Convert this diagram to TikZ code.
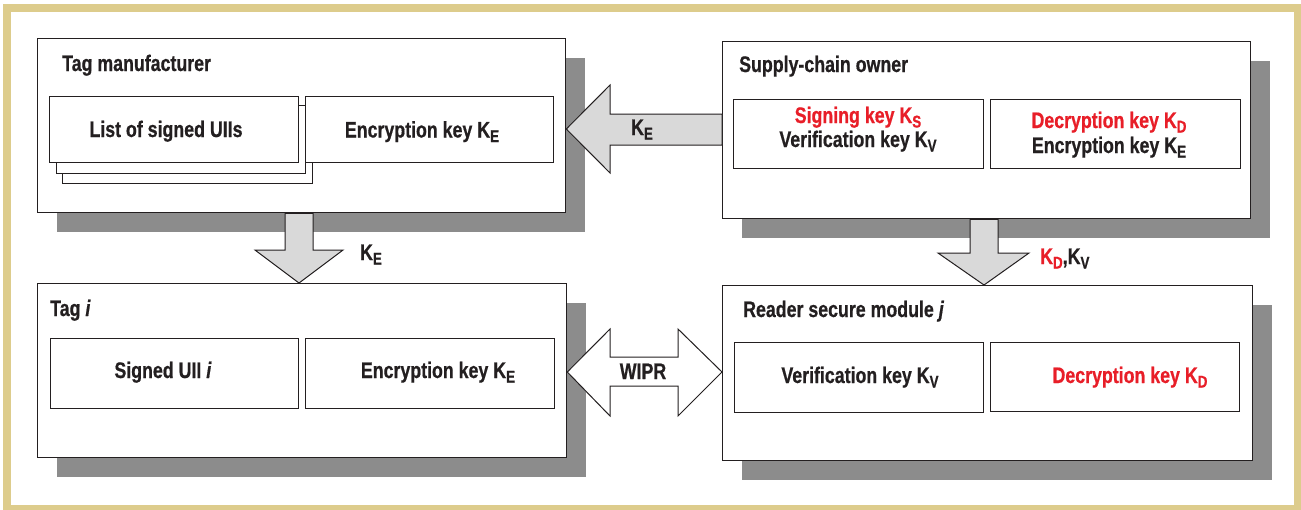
\documentclass[tikz,border=0pt]{standalone}
\usepackage{fontspec}
\setmainfont{Liberation Sans}[FakeStretch=0.79, BoldFeatures={FakeBold=0.6}, BoldItalicFeatures={FakeBold=0.6}]
\usetikzlibrary{calc}
\definecolor{frametan}{RGB}{221,204,140}
\definecolor{shadowgray}{RGB}{140,140,140}
\definecolor{arrowgray}{RGB}{217,217,217}
\definecolor{keyred}{RGB}{232,30,40}
\definecolor{ink}{RGB}{35,31,32}
\newcommand\ksub[1]{K\raisebox{-4.5pt}{\fontsize{17}{17}\selectfont #1}}
\begin{document}
\begin{tikzpicture}[x=1pt,y=-1pt,
  every node/.style={font=\fontsize{22.5}{24}\selectfont\bfseries, text=ink, inner sep=0pt},
  outerbox/.style={draw=ink, line width=1.3pt, fill=white, anchor=north west},
  innerbox/.style={draw=ink, line width=1.2pt, fill=white, anchor=north west},
  shadowbox/.style={fill=shadowgray},
  blockarrow/.style={draw=ink, line width=1pt, fill=arrowgray, line join=miter},
  wiprarrow/.style={draw=ink, line width=1pt, fill=white, line join=miter},
  lbl/.style={anchor=base},
  ttl/.style={anchor=base west},
  redtxt/.style={text=keyred}]
\useasboundingbox (0,0) rectangle (1301,509);
\fill[white] (0,0) rectangle (1301,509);
\draw[frametan, line width=8.5pt] (7,8) rectangle (1298,509);

% shadows
\fill[shadowbox] (57,58) rectangle (585,232);
\fill[shadowbox] (742,61) rectangle (1270,238);
\fill[shadowbox] (57,303) rectangle (586,477);
\fill[shadowbox] (742,305) rectangle (1272,480);

% outer boxes
\node[outerbox, minimum width=528pt, minimum height=174pt] (tm) at (37,38) {};
\node[outerbox, minimum width=528pt, minimum height=177pt] (sco) at (722,41) {};
\node[outerbox, minimum width=529pt, minimum height=174pt] (tag) at (37,283) {};
\node[outerbox, minimum width=530pt, minimum height=175pt] (rsm) at (722,285) {};

% titles
\node[ttl] (tmt) at (62,71) {Tag manufacturer};
\node[ttl] (scot) at (739,72) {Supply-chain owner};
\node[ttl] (tagt) at (50,316) {Tag \textit{i}};
\node[ttl] (rsmt) at (743,317) {Reader secure module \textit{j}};

% tag manufacturer inner boxes
\node[innerbox, minimum width=250pt, minimum height=68pt] (st3) at (62,115) {};
\node[innerbox, minimum width=249pt, minimum height=68pt] (st2) at (56,105) {};
\node[innerbox, minimum width=249pt, minimum height=66pt] (st1) at (49,96) {};
\node[innerbox, minimum width=248pt, minimum height=66pt] (tmenc) at (305,96) {};
\node[lbl] (st1t) at (166,137) {List of signed UIIs};
\node[lbl] (tmenct) at (422,137.5) {Encryption key \ksub{E}};

% supply-chain owner inner boxes
\node[innerbox, minimum width=250pt, minimum height=69pt] (scok1) at (733,99) {};
\node[innerbox, minimum width=250pt, minimum height=69pt] (scok2) at (990,99) {};
\node[lbl, redtxt] (scos) at (858,123) {Signing key \ksub{S}};
\node[lbl] (scov) at (858,147) {Verification key \ksub{V}};
\node[lbl, redtxt] (scod) at (1109,128) {Decryption key \ksub{D}};
\node[lbl] (scoe) at (1109,153) {Encryption key \ksub{E}};

% tag i inner boxes
\node[innerbox, minimum width=248pt, minimum height=70pt] (tagu) at (50,338) {};
\node[innerbox, minimum width=249pt, minimum height=70pt] (tagk) at (305,338) {};
\node[lbl] (tagut) at (163,378) {Signed UII \textit{i}};
\node[lbl] (tagkt) at (438,378) {Encryption key \ksub{E}};

% reader inner boxes
\node[innerbox, minimum width=249pt, minimum height=70pt] (rsmv) at (734,342) {};
\node[innerbox, minimum width=249pt, minimum height=69pt] (rsmd) at (990,342) {};
\node[lbl] (rsmvt) at (860,383) {Verification key \ksub{V}};
\node[lbl, redtxt] (rsmdt) at (1130,383) {Decryption key \ksub{D}};

% block arrows
\draw[blockarrow] (sco.west |- 0,114) -- (610,114) -- (610,85) -- (tm.east |- 0,129)
  -- (610,173) -- (610,145) -- (sco.west |- 0,145) -- cycle;
\node[lbl] (a1) at (642,135) {\ksub{E}};

\draw[blockarrow] (285,0 |- tm.south) -- (285,250) -- (255,250) -- (299,0 |- tag.north)
  -- (343,250) -- (313,250) -- (313,0 |- tm.south) -- cycle;
\node[lbl] (a2) at (371,260) {\ksub{E}};

\draw[blockarrow] (970,0 |- sco.south) -- (970,253) -- (938,253) -- (984,0 |- rsm.north)
  -- (1029,253) -- (998,253) -- (998,0 |- sco.south) -- cycle;
\node[anchor=base west] (a3) at (1040,264) {\textcolor{keyred}{\ksub{D}},\ksub{V}};

\draw[wiprarrow] (tag.east |- 0,372) -- (610,329) -- (610,357) -- (678,357) -- (678,329)
  -- (rsm.west |- 0,372) -- (678,416) -- (678,386) -- (610,386) -- (610,416) -- cycle;
\node[lbl] (a4) at (643,379) {WIPR};
\end{tikzpicture}
\end{document}
